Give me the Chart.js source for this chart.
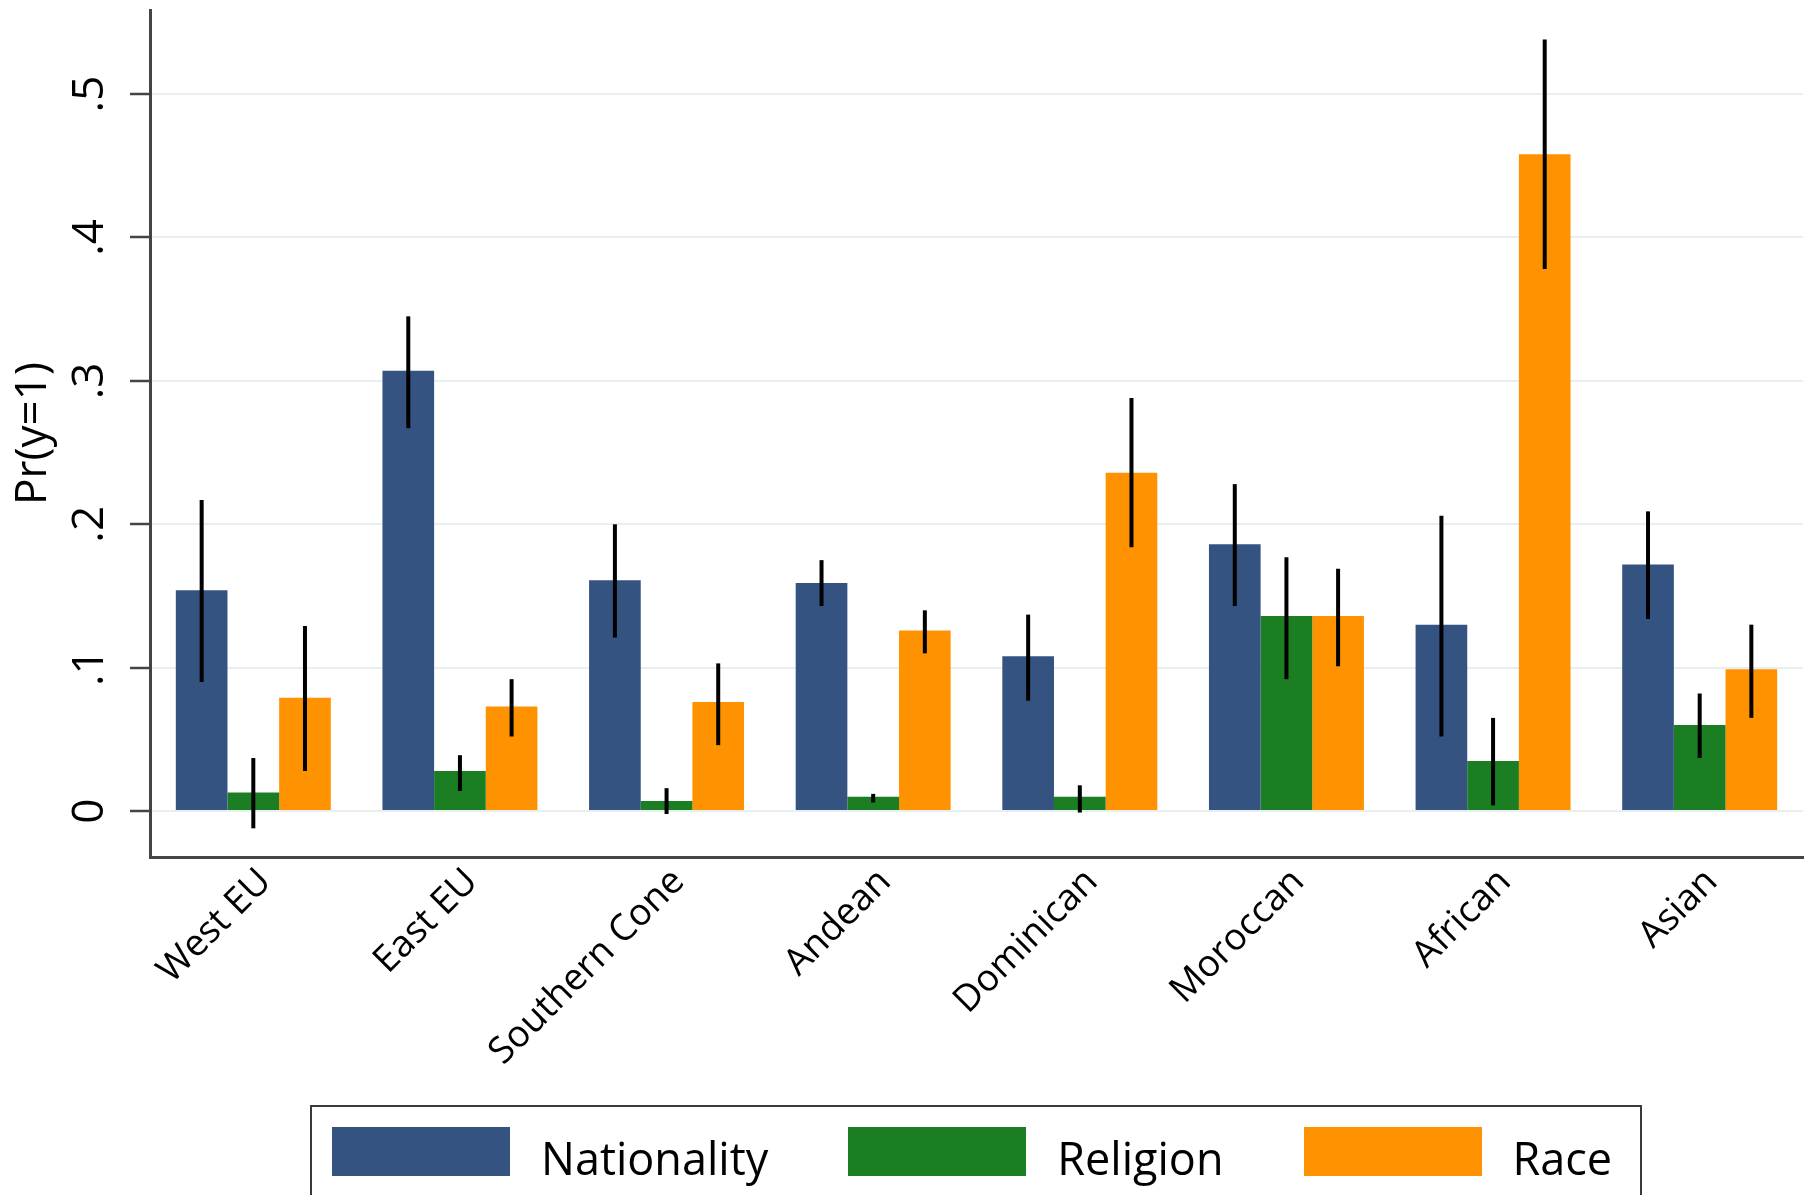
<!DOCTYPE html>
<html>
<head>
<meta charset="utf-8">
<script src="https://cdn.jsdelivr.net/npm/chart.js@4.4.1/dist/chart.umd.min.js"></script>
<style>
  html, body { margin: 0; padding: 0; background: #fff; overflow: hidden; }
  #wrap { position: relative; width: 1813px; height: 1195px; }
  #legend {
    position: absolute; left: 310px; top: 1105px; width: 1332px; height: 120px;
    box-sizing: border-box; border: 2px solid #3a3a3a;
    display: flex; align-items: flex-start; padding: 20px 0 0 20px;
    font-family: 'Open Sans', sans-serif; font-size: 45px; color: #000;
  }
  .item { display: flex; align-items: flex-start; margin-right: 80px; }
  .swatch { width: 178px; height: 49px; margin-right: 31px; }
  .label { line-height: 49px; height: 49px; position: relative; top: 6px; white-space: nowrap; }
</style>
</head>
<body>
<div id="wrap">
  <canvas id="bars" width="1813" height="1195"></canvas>
  <div id="legend"></div>
</div>
<script>
const groups = ["West EU", "East EU", "Southern Cone", "Andean", "Dominican", "Moroccan", "African", "Asian"];

const nationality     = [0.154, 0.307, 0.161, 0.159, 0.108, 0.186, 0.130, 0.172];
const nationalityLow  = [0.090, 0.267, 0.121, 0.143, 0.077, 0.143, 0.052, 0.134];
const nationalityHigh = [0.217, 0.345, 0.200, 0.175, 0.137, 0.228, 0.206, 0.209];

const religion     = [0.013, 0.028, 0.007, 0.010, 0.010, 0.136, 0.035, 0.060];
const religionLow  = [-0.012, 0.014, -0.002, 0.006, -0.001, 0.092, 0.004, 0.037];
const religionHigh = [0.037, 0.039, 0.016, 0.012, 0.018, 0.177, 0.065, 0.082];

const race     = [0.079, 0.073, 0.076, 0.126, 0.236, 0.136, 0.458, 0.099];
const raceLow  = [0.028, 0.052, 0.046, 0.110, 0.184, 0.101, 0.378, 0.065];
const raceHigh = [0.129, 0.092, 0.103, 0.140, 0.288, 0.169, 0.538, 0.130];

const yTicks = [0, 0.1, 0.2, 0.3, 0.4, 0.5];
const yTickLabels = ["0", ".1", ".2", ".3", ".4", ".5"];

const FONT = "'Open Sans', sans-serif";
Chart.defaults.font.family = FONT;
Chart.defaults.color = "#000";

// vertical confidence intervals on top of each bar
const errorBars = {
  id: "errorBars",
  afterDatasetsDraw(chart) {
    const ctx = chart.ctx;
    const y = chart.scales.y;
    ctx.save();
    ctx.strokeStyle = "#000";
    ctx.lineWidth = 4;
    chart.data.datasets.forEach((ds, i) => {
      chart.getDatasetMeta(i).data.forEach((bar, j) => {
        ctx.beginPath();
        ctx.moveTo(bar.x, y.getPixelForValue(ds.low[j]));
        ctx.lineTo(bar.x, y.getPixelForValue(ds.high[j]));
        ctx.stroke();
      });
    });
    ctx.restore();
  },
};

// y tick labels written sideways, reading upwards
const sideLabels = {
  id: "sideLabels",
  afterDraw(chart) {
    const ctx = chart.ctx;
    const s = chart.scales.y;
    ctx.save();
    ctx.fillStyle = "#000";
    ctx.font = "44px " + FONT;
    ctx.textAlign = "center";
    ctx.textBaseline = "alphabetic";
    s.ticks.forEach((t, i) => {
      ctx.save();
      ctx.translate(s.right - 47, s.getPixelForValue(t.value));
      ctx.rotate(-Math.PI / 2);
      ctx.fillText(yTickLabels[i], 0, 0);
      ctx.restore();
    });
    ctx.restore();
  },
};

const chart = new Chart(document.getElementById("bars"), {
  type: "bar",
  data: {
    labels: groups,
    datasets: [
      { label: "Nationality", data: nationality, low: nationalityLow, high: nationalityHigh, backgroundColor: "#345381" },
      { label: "Religion", data: religion, low: religionLow, high: religionHigh, backgroundColor: "#1b7e23" },
      { label: "Race", data: race, low: raceLow, high: raceHigh, backgroundColor: "#ff9200" },
    ],
  },
  options: {
    responsive: false,
    animation: false,
    devicePixelRatio: 1,
    layout: { padding: { left: 0, top: 10, right: 10, bottom: 98 } },
    datasets: { bar: { categoryPercentage: 0.75, barPercentage: 1.0, borderWidth: 0 } },
    plugins: { legend: { display: false }, tooltip: { enabled: false } },
    scales: {
      x: {
        grid: { display: false, drawTicks: false },
        border: { display: true, color: "#444", width: 3 },
        ticks: { autoSkip: false, minRotation: 45, maxRotation: 45, padding: 3, labelOffset: 12, font: { size: 37 } },
        afterFit: (scale) => { scale.height = 240; },
      },
      y: {
        min: -0.032,
        max: 0.5586,
        afterBuildTicks: (scale) => { scale.ticks = yTicks.map((v) => ({ value: v })); },
        afterFit: (scale) => { scale.width = 150; },
        grid: { color: "#e8efef", lineWidth: 2, tickLength: 20, tickColor: "#444", tickWidth: 2.5 },
        border: { display: true, color: "#444", width: 3 },
        ticks: { display: false },
        title: { display: true, text: "Pr(y=1)", font: { size: 44 }, padding: { top: 7, bottom: 0 } },
      },
    },
  },
  plugins: [errorBars, sideLabels],
});

// legend boxed below the plot
const legend = document.getElementById("legend");
chart.data.datasets.forEach((ds) => {
  const item = document.createElement("div");
  item.className = "item";
  const sw = document.createElement("div");
  sw.className = "swatch";
  sw.style.background = ds.backgroundColor;
  const txt = document.createElement("div");
  txt.className = "label";
  txt.textContent = ds.label;
  item.appendChild(sw);
  item.appendChild(txt);
  legend.appendChild(item);
});
</script>
</body>
</html>
